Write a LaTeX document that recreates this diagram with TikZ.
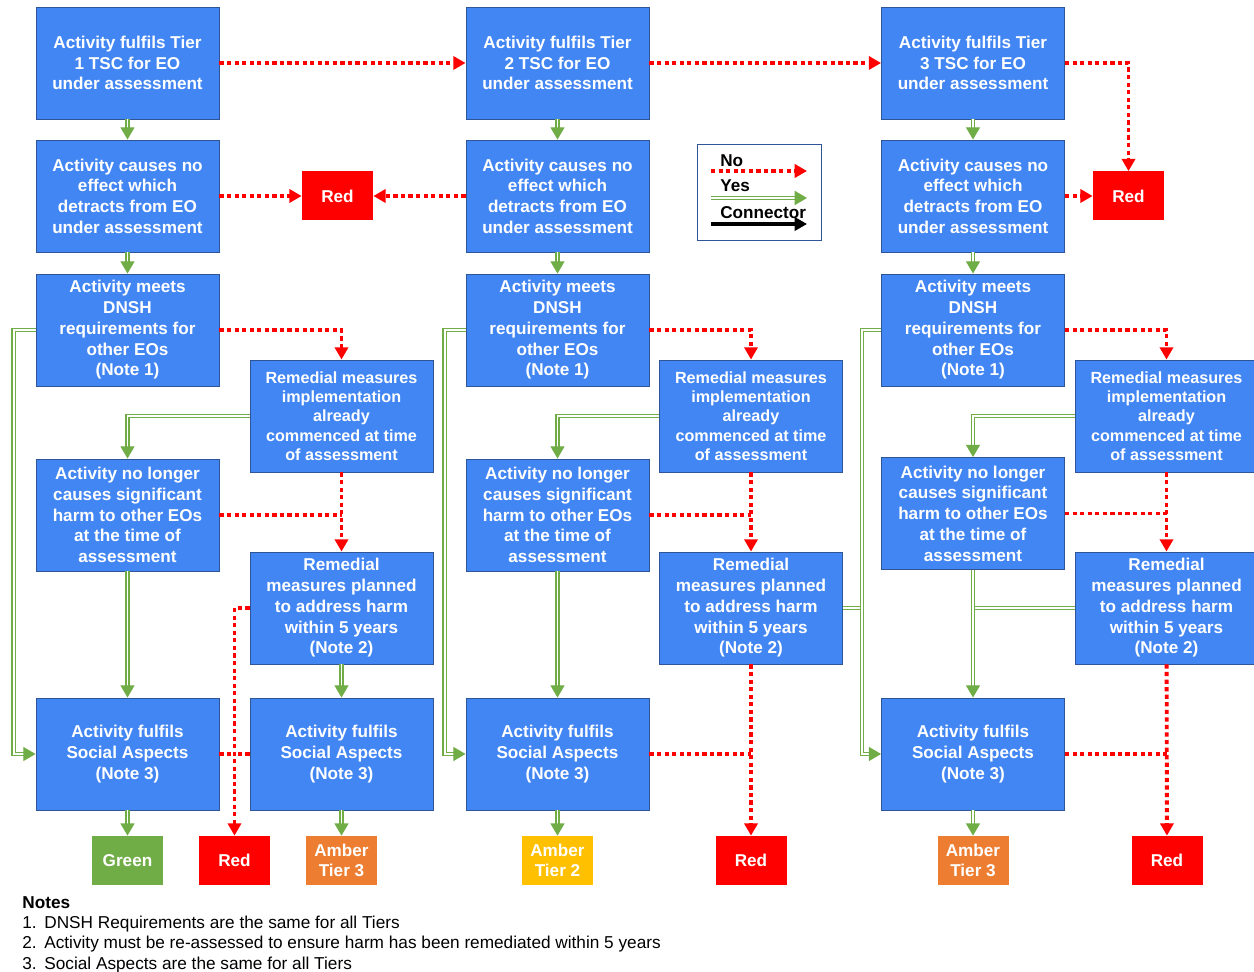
\documentclass[tikz,border=0pt]{standalone}
\usepackage{fontspec}
\setmainfont{Liberation Sans}
\usepackage{xcolor}
\usetikzlibrary{arrows.meta}

\definecolor{boxblue}{RGB}{66,134,244}
\definecolor{boxline}{RGB}{47,85,151}
\definecolor{nored}{RGB}{255,0,0}
\definecolor{yesgreen}{RGB}{112,173,71}
\definecolor{amberorange}{RGB}{237,125,49}
\definecolor{amberyellow}{RGB}{255,192,0}

\begin{document}
\begin{tikzpicture}[
box/.style={draw=boxline, line width=0.5pt, fill=boxblue, text=white, align=center,
  font=\fontsize{9.75}{11.8}\selectfont\bfseries,
  minimum width=3.66cm, minimum height=2.24cm, inner sep=0pt},
smallbox/.style={box, font=\fontsize{9.2}{11}\selectfont\bfseries},
result/.style={text=white, align=center, font=\fontsize{9.75}{11.8}\selectfont\bfseries,
  minimum width=1.42cm, minimum height=0.98cm, inner sep=0pt},
noline/.style={draw=nored, line width=2.2pt, dash pattern=on 2.4pt off 1.9pt},
noarrow/.style={noline, -{Triangle[length=7pt,width=7.5pt]}},
yesline/.style={draw=yesgreen, line width=0.8pt, double=white, double distance=1.1pt},
yesarrow/.style={yesline, -{Triangle[length=7pt,width=8pt]}},
keytext/.style={anchor=west, inner sep=0pt, font=\fontsize{9.75}{11.8}\selectfont\bfseries}
]
\useasboundingbox (0,0) rectangle (25.08,-19.44);

% The tier boxes
\node[box] (tier1) at (2.55,-1.26) {Activity fulfils Tier\\1 TSC for EO\\under assessment};
\node[box] (tier2) at (11.15,-1.26) {Activity fulfils Tier\\2 TSC for EO\\under assessment};
\node[box] (tier3) at (19.46,-1.26) {Activity fulfils Tier\\3 TSC for EO\\under assessment};

% The effect boxes
\node[box] (eff1) at (2.55,-3.92) {Activity causes no\\effect which\\detracts from EO\\under assessment};
\node[box] (eff2) at (11.15,-3.92) {Activity causes no\\effect which\\detracts from EO\\under assessment};
\node[box] (eff3) at (19.46,-3.92) {Activity causes no\\effect which\\detracts from EO\\under assessment};
\node[result, fill=nored] (redtop1) at (6.75,-3.92) {Red};
\node[result, fill=nored] (redtop3) at (22.57,-3.92) {Red};

% The DNSH boxes
\node[box] (dnsh1) at (2.55,-6.60) {Activity meets\\DNSH\\requirements for\\other EOs\\(Note 1)};
\node[box] (dnsh2) at (11.15,-6.60) {Activity meets\\DNSH\\requirements for\\other EOs\\(Note 1)};
\node[box] (dnsh3) at (19.46,-6.60) {Activity meets\\DNSH\\requirements for\\other EOs\\(Note 1)};

% The remedial measures
\node[smallbox] (rem1) at (6.83,-8.32) {Remedial measures\\implementation\\already\\commenced at time\\of assessment};
\node[smallbox] (rem2) at (15.02,-8.32) {Remedial measures\\implementation\\already\\commenced at time\\of assessment};
\node[smallbox] (rem3) at (23.33,-8.32) {Remedial measures\\implementation\\already\\commenced at time\\of assessment};
\node[box] (harm1) at (2.55,-10.30) {Activity no longer\\causes significant\\harm to other EOs\\at the time of\\assessment};
\node[box] (harm2) at (11.15,-10.30) {Activity no longer\\causes significant\\harm to other EOs\\at the time of\\assessment};
\node[box] (harm3) at (19.46,-10.27) {Activity no longer\\causes significant\\harm to other EOs\\at the time of\\assessment};
\node[box] (plan1) at (6.83,-12.16) {Remedial\\measures planned\\to address harm\\within 5 years\\(Note 2)};
\node[box] (plan2) at (15.02,-12.16) {Remedial\\measures planned\\to address harm\\within 5 years\\(Note 2)};
\node[box] (plan3) at (23.33,-12.16) {Remedial\\measures planned\\to address harm\\within 5 years\\(Note 2)};

% The social aspects
\node[box] (soc1) at (2.55,-15.08) {Activity fulfils\\Social Aspects\\(Note 3)};
\node[box] (socB1) at (6.83,-15.08) {Activity fulfils\\Social Aspects\\(Note 3)};
\node[box] (soc2) at (11.15,-15.08) {Activity fulfils\\Social Aspects\\(Note 3)};
\node[box] (soc3) at (19.46,-15.08) {Activity fulfils\\Social Aspects\\(Note 3)};

% The outcomes
\node[result, fill=yesgreen] (green1) at (2.55,-17.21) {Green};
\node[result, fill=nored] (red1) at (4.69,-17.21) {Red};
\node[result, fill=amberorange] (amber1) at (6.83,-17.21) {Amber\\Tier 3};
\node[result, fill=amberyellow] (amber2) at (11.15,-17.21) {Amber\\Tier 2};
\node[result, fill=nored] (red2) at (15.02,-17.21) {Red};
\node[result, fill=amberorange] (amber3) at (19.46,-17.21) {Amber\\Tier 3};
\node[result, fill=nored] (red3) at (23.34,-17.21) {Red};

% The yes connectors
\draw[yesarrow] (tier1) -- (eff1);
\draw[yesarrow] (tier2) -- (eff2);
\draw[yesarrow] (tier3) -- (eff3);
\draw[yesarrow] (eff1) -- (dnsh1);
\draw[yesarrow] (eff2) -- (dnsh2);
\draw[yesarrow] (eff3) -- (dnsh3);
\draw[yesarrow] (dnsh1.west) -- ++(-0.44,0) |- (soc1.west);
\draw[yesarrow] (dnsh2.west) -- ++(-0.42,0) |- (soc2.west);
\draw[yesarrow] (dnsh3.west) -- ++(-0.38,0) coordinate (bend3) |- (soc3.west);
\draw[yesarrow] (rem1.west) -| (harm1.north);
\draw[yesarrow] (rem2.west) -| (harm2.north);
\draw[yesarrow] (rem3.west) -| (harm3.north);
\draw[yesarrow] (harm1) -- (soc1);
\draw[yesarrow] (harm2) -- (soc2);
\draw[yesarrow] (harm3) -- (soc3);
\draw[yesarrow] (plan1) -- (socB1);
\draw[yesline, shorten >=1.35pt] (plan2.east) -- (plan2.east -| bend3);
\draw[yesline, shorten >=1.35pt] (plan3.west) -- (plan3.west -| harm3.south);
\draw[yesarrow] (soc1) -- (green1);
\draw[yesarrow] (socB1) -- (amber1);
\draw[yesarrow] (soc2) -- (amber2);
\draw[yesarrow] (soc3) -- (amber3);

% The no connectors
\draw[noarrow] (tier1) -- (tier2);
\draw[noarrow] (tier2) -- (tier3);
\draw[noarrow] (tier3.east) -| (redtop3.north);
\draw[noarrow] (eff1) -- (redtop1);
\draw[noarrow] (eff2) -- (redtop1);
\draw[noarrow] (eff3) -- (redtop3);
\draw[noarrow] (dnsh1.east) -| (rem1.north);
\draw[noarrow] (dnsh2.east) -| (rem2.north);
\draw[noarrow] (dnsh3.east) -| (rem3.north);
\draw[noarrow] (rem1) -- (plan1);
\draw[noarrow] (rem2) -- (plan2);
\draw[noarrow] (rem3) -- (plan3);
\draw[noline] (harm1.east) -- (harm1.east -| plan1.north);
\draw[noline] (harm2.east) -- (harm2.east -| plan2.north);
\draw[noline] (harm3.east) -- (harm3.east -| plan3.north);
\draw[noarrow] (plan1.west) -| (red1.north);
\draw[noarrow] (plan2) -- (red2);
\draw[noarrow] (plan3) -- (red3);
\draw[noline] (soc1.east) -- (soc1.east -| red1.north);
\draw[noline] (socB1.west) -- (socB1.west -| red1.north);
\draw[noline] (soc2.east) -- (soc2.east -| red2.north);
\draw[noline] (soc3.east) -- (soc3.east -| red3.north);

% The key
\node[draw=boxline, line width=0.5pt, fill=white, minimum width=2.48cm, minimum height=1.92cm] (key) at (15.18,-3.84) {};
\node[keytext] (keyno) at (14.40,-3.22) {No};
\node[keytext] (keyyes) at (14.40,-3.72) {Yes};
\node[keytext] (keycon) at (14.40,-4.26) {Connector};
\coordinate (noA) at (14.22,-3.42);
\coordinate (noB) at (16.14,-3.42);
\coordinate (yesA) at (14.22,-3.96);
\coordinate (yesB) at (16.14,-3.96);
\coordinate (conA) at (14.22,-4.48);
\coordinate (conB) at (16.14,-4.48);
\draw[noarrow] (noA) -- (noB);
\draw[yesarrow] (yesA) -- (yesB);
\draw[line width=2pt, -{Triangle[length=7pt,width=7.5pt]}] (conA) -- (conB);

% The notes
\node[anchor=north west, align=left, inner sep=0pt, font=\fontsize{9.8}{11.6}\selectfont] (notes) at (0.44,-17.92)
  {\textbf{Notes}\\
   \makebox[0.44cm][l]{1.}DNSH Requirements are the same for all Tiers\\
   \makebox[0.44cm][l]{2.}Activity must be re-assessed to ensure harm has been remediated within 5 years\\
   \makebox[0.44cm][l]{3.}Social Aspects are the same for all Tiers};
\end{tikzpicture}
\end{document}
